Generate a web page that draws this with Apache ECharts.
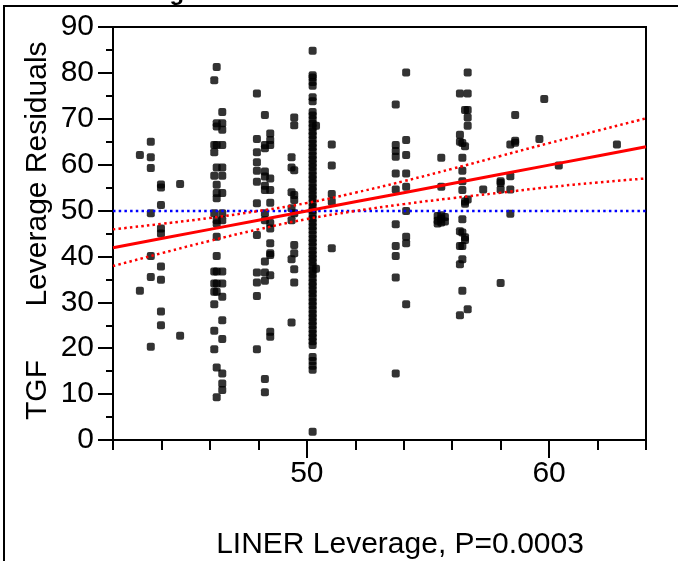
<!DOCTYPE html>
<html><head><meta charset="utf-8">
<script src="https://cdn.jsdelivr.net/npm/echarts@6/dist/echarts.min.js"></script>
<style>html,body{margin:0;padding:0;background:#fff}#c{width:678px;height:561px}</style>
</head><body><div id="c"></div>
<script>
// x position of each column of points (LINER leverage)
const colX = [43.11, 43.56, 43.98, 44.77, 46.18, 46.28, 46.51, 47.94, 48.27, 48.49, 49.37, 49.48,
  50.24, 50.38, 51.03, 53.67, 54.1, 55.4, 55.55, 55.7, 56.32, 56.42, 56.53, 56.64, 57.28, 58.0, 58.4, 58.6,
  59.6, 59.8, 60.4, 62.8];
// TGF leverage residuals in each column
const colY = [
  [62.1, 32.5],
  [65.0, 61.6, 59.3, 49.4, 40.1, 35.5, 20.3],
  [55.7, 55.0, 51.2, 46.1, 45.0, 37.8, 34.9, 28.0, 25.0],
  [55.8, 22.7],
  [78.4, 64.3, 62.7, 57.6, 49.4, 36.7, 34.1, 32.3, 29.6, 23.8, 19.8],
  [81.3, 69.0, 68.3, 64.3, 59.4, 55.6, 53.8, 52.7, 47.9, 47.2, 44.3, 40.1, 36.7, 34.1, 32.3, 15.8, 9.3],
  [71.5, 69.0, 67.6, 64.3, 59.4, 57.6, 53.8, 49.4, 47.9, 36.7, 34.1, 31.2, 26.1, 22.0, 14.5, 12.3, 10.9],
  [75.5, 65.6, 62.7, 60.5, 58.7, 56.3, 51.6, 44.7, 36.5, 34.3, 31.4, 19.8],
  [70.8, 64.3, 63.6, 58.5, 57.4, 55.4, 54.5, 49.4, 47.9, 38.9, 36.5, 34.7, 13.3, 10.4],
  [66.8, 65.4, 64.3, 57.0, 54.5, 51.7, 47.3, 46.1, 42.9, 40.7, 40.3, 35.9, 23.6, 22.5],
  [61.6, 59.4, 54.0, 50.5, 47.9, 39.4, 25.6],
  [70.3, 68.6, 58.8, 53.4, 52.3, 49.4, 42.5, 40.7, 37.2, 34.3],
  [84.8, 79.5, 79.0, 78.0, 77.2, 74.7, 73.8, 71.5, 70.7, 69.8, 68.9, 68.1, 67.2, 66.4, 65.5, 64.6, 63.8,
   62.9, 62.0, 61.2, 60.3, 59.5, 58.6, 57.7, 56.9, 56.0, 55.1, 54.3, 53.4, 52.6, 51.7, 50.8, 50.0, 49.1,
   48.2, 47.4, 46.5, 45.7, 44.8, 43.9, 43.1, 42.2, 41.3, 40.5, 39.6, 38.8, 37.9, 37.0, 36.2, 35.3, 34.4,
   33.6, 32.7, 31.9, 31.0, 30.1, 29.3, 28.4, 27.5, 26.7, 25.8, 25.0, 24.1, 23.2, 22.4, 21.5, 20.7,
   18.1, 17.2, 16.2, 15.3, 1.8],
  [68.5, 37.3],
  [64.4, 59.8, 53.6, 51.9, 41.8],
  [73.1, 64.3, 63.0, 61.7, 58.1, 54.6, 47.0, 42.3, 40.1, 35.4, 14.5],
  [80.1, 65.4, 62.1, 58.1, 55.2, 49.9, 44.3, 42.9, 29.6],
  [48.8, 47.8, 47.2],
  [61.5, 55.2, 49.0, 48.2, 47.4],
  [48.6, 47.6],
  [75.5, 66.5, 65.0, 45.5, 42.3, 38.3, 27.2],
  [64.7, 61.5, 58.7, 56.4, 54.5, 48.1, 45.2, 42.3, 39.4, 32.5],
  [71.9, 64.0, 52.0, 51.5, 44.2, 43.6],
  [80.1, 75.5, 71.9, 70.3, 68.5, 52.4, 28.5],
  [54.6],
  [56.0, 56.4, 54.6, 34.2],
  [64.4, 57.5, 54.6, 49.3],
  [70.8, 65.2, 64.8],
  [65.6],
  [74.3],
  [59.8],
  [64.4]
];
// fit line and confidence curves
const fitX = [42, 44, 46, 48, 50, 52, 54, 56, 58, 60, 62, 64];
const fitY = [41.9, 43.9, 45.9, 47.9, 49.9, 51.9, 53.9, 55.9, 57.9, 59.9, 61.9, 63.9];
const upperY = [45.9, 47.1, 48.4, 49.9, 51.65, 53.9, 56.4, 59.1, 61.9, 64.7, 67.4, 70.1];
const lowerY = [37.9, 40.7, 43.4, 45.9, 48.15, 49.9, 51.4, 52.7, 53.9, 55.1, 56.1, 57.0];
const meanX = [42, 64];
const meanY = [49.9, 49.9];
const xMinorTicks = [42, 44, 46, 48, 50, 52, 54, 56, 58, 60, 62, 64];
const xMajorTicks = [50, 60];

const FONT = 'Liberation Sans, Arial, sans-serif';
const FS = 30;
const pts = [];
colX.forEach((x, i) => colY[i].forEach(y => pts.push([x, y])));
const zip = (a, b) => a.map((v, i) => [v, b[i]]);

const chart = echarts.init(document.getElementById('c'), null, {renderer: 'canvas'});
const xBase = {type: 'value', min: 42, max: 64, splitLine: {show: false}, gridIndex: 0};
chart.setOption({
  animation: false,
  backgroundColor: '#fff',
  grid: {left: 113, right: 32, top: 27, bottom: 121, show: true, borderColor: '#000', borderWidth: 2},
  xAxis: [
    Object.assign({}, xBase, {
      axisLine: {lineStyle: {color: '#000', width: 2}},
      axisTick: {customValues: xMinorTicks, length: 10, lineStyle: {color: '#000', width: 2}},
      axisLabel: {show: false}
    }),
    Object.assign({}, xBase, {
      position: 'bottom',
      axisLine: {show: false},
      axisTick: {customValues: xMajorTicks, length: 18, lineStyle: {color: '#000', width: 2}},
      axisLabel: {customValues: xMajorTicks, margin: 19, color: '#000', fontSize: FS, fontFamily: FONT}
    })
  ],
  yAxis: {
    type: 'value', min: 0, max: 90, interval: 10,
    splitLine: {show: false},
    axisLine: {lineStyle: {color: '#000', width: 2}},
    axisTick: {length: 15, lineStyle: {color: '#000', width: 2}},
    minorTick: {show: true, splitNumber: 2, length: 7, lineStyle: {color: '#000', width: 2}},
    axisLabel: {margin: 19, color: '#000', fontSize: FS, fontFamily: FONT}
  },
  series: [
    {type: 'scatter', data: pts, symbol: 'roundRect', symbolSize: 8, itemStyle: {color: '#000'}, z: 3},
    {type: 'line', data: zip(meanX, meanY), symbol: 'none', lineStyle: {color: '#0000ff', width: 2.5, type: [2.5, 3.2]}, z: 4},
    {type: 'line', data: zip(fitX, upperY), smooth: true, symbol: 'none', lineStyle: {color: '#ff0000', width: 2.5, type: [2.5, 3.2]}, z: 4},
    {type: 'line', data: zip(fitX, lowerY), smooth: true, symbol: 'none', lineStyle: {color: '#ff0000', width: 2.5, type: [2.5, 3.2]}, z: 4},
    {type: 'line', data: zip(fitX, fitY), symbol: 'none', lineStyle: {color: '#ff0000', width: 3}, z: 5}
  ],
  graphic: [
    {type: 'polyline', shape: {points: [[4, 561], [4, 6], [678, 6]]}, style: {stroke: '#000', lineWidth: 2, fill: null}},
    {type: 'text', x: 92, y: -19, style: {text: 'Leverage Plot', font: 'bold 24px ' + FONT, fill: '#000'}},
    {type: 'text', x: 38, y: 174, rotation: Math.PI / 2, style: {text: 'Leverage Residuals', font: FS + 'px ' + FONT, fill: '#000', align: 'center', verticalAlign: 'middle'}},
    {type: 'text', x: 38, y: 390, rotation: Math.PI / 2, style: {text: 'TGF', font: FS + 'px ' + FONT, fill: '#000', align: 'center', verticalAlign: 'middle'}},
    {type: 'text', x: 400, y: 545, style: {text: 'LINER Leverage, P=0.0003', font: FS + 'px ' + FONT, fill: '#000', align: 'center', verticalAlign: 'middle'}}
  ]
});
</script></body></html>
